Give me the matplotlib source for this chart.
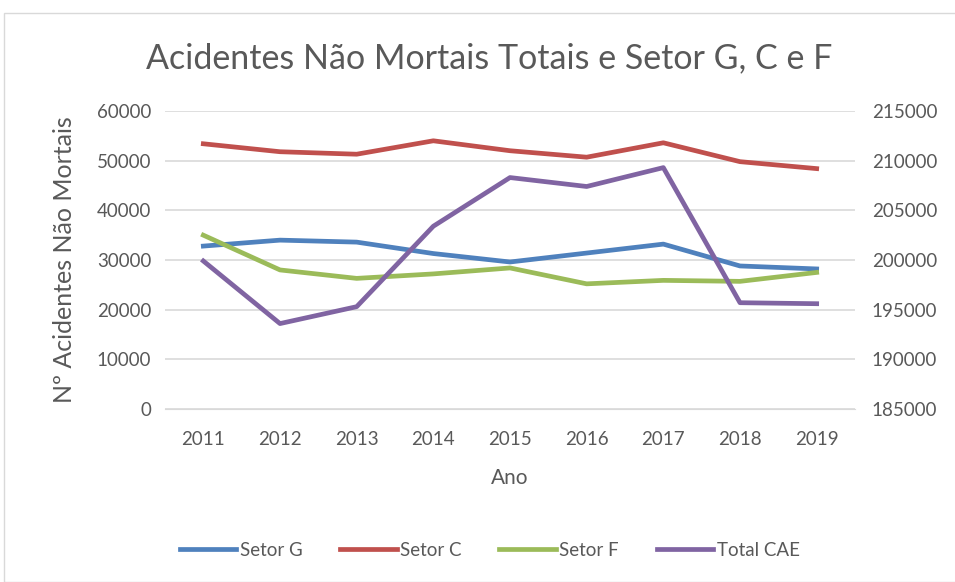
import numpy as np
import matplotlib.pyplot as plt
from matplotlib.patches import Rectangle

# Data
anos = ['2011', '2012', '2013', '2014', '2015', '2016', '2017', '2018', '2019']
setor_g = [32800, 34000, 33600, 31300, 29600, 31400, 33200, 28800, 28200]
setor_c = [53400, 51800, 51300, 54000, 52000, 50700, 53600, 49800, 48400]
setor_f = [35000, 28000, 26300, 27200, 28400, 25200, 25900, 25700, 27500]
total_cae = [199900, 193600, 195300, 203400, 208300, 207400, 209300, 195700, 195600]

plt.rcParams['font.family'] = ['Lato', 'DejaVu Sans']
cinza = '#595959'

fig = plt.figure(figsize=(9.55, 5.82), dpi=100)
fig.patches.append(Rectangle((4 / 955, 0), 1, 1 - 13 / 582, transform=fig.transFigure,
                             fill=False, edgecolor='#D9D9D9', linewidth=1))
ax = fig.add_axes([165 / 955, 1 - 409 / 582, 690 / 955, 298 / 582])
ax2 = ax.twinx()

x = np.arange(len(anos))
lw = 3.4
l1, = ax.plot(x, setor_g, color='#4F81BD', linewidth=lw, label='Setor G')
l2, = ax.plot(x, setor_c, color='#C0504D', linewidth=lw, label='Setor C')
l3, = ax.plot(x, setor_f, color='#9BBB59', linewidth=lw, label='Setor F')
l4, = ax2.plot(x, total_cae, color='#8064A2', linewidth=lw, label='Total CAE')

ax.set_xlim(-0.5, len(anos) - 0.5)
ax.set_ylim(0, 60000)
ax.set_yticks(np.arange(0, 60001, 10000))
ax2.set_ylim(185000, 215000)
ax2.set_yticks(np.arange(185000, 215001, 5000))
ax.set_xticks(x)
ax.set_xticklabels(anos)

ax.grid(axis='y', color='#D9D9D9', linewidth=1.2)
ax.set_axisbelow(True)
for a in (ax, ax2):
    for s in a.spines.values():
        s.set_visible(False)
    a.tick_params(length=0, labelsize=13.5, colors=cinza)
ax.spines['bottom'].set_visible(True)
ax.spines['bottom'].set_color('#D9D9D9')
ax.tick_params(axis='x', pad=16)
ax.tick_params(axis='y', pad=10)
ax2.tick_params(axis='y', pad=12)

ax.set_xlabel('Ano', fontsize=15, color=cinza, labelpad=14)
ax.set_ylabel('Nº Acidentes Não Mortais', fontsize=18, color=cinza, labelpad=15)
fig.text(0.512, 1 - 58 / 582, 'Acidentes Não Mortais Totais e Setor G, C e F',
         ha='center', va='center', fontsize=24.5, color=cinza)

fig.legend(handles=[l1, l2, l3, l4], loc='center', bbox_to_anchor=(0.513, 1 - 550 / 582),
           ncol=4, frameon=False, fontsize=13.5, labelcolor=cinza,
           handlelength=3.0, handletextpad=0.2, columnspacing=2.0)

plt.savefig('out.png', dpi=100)
